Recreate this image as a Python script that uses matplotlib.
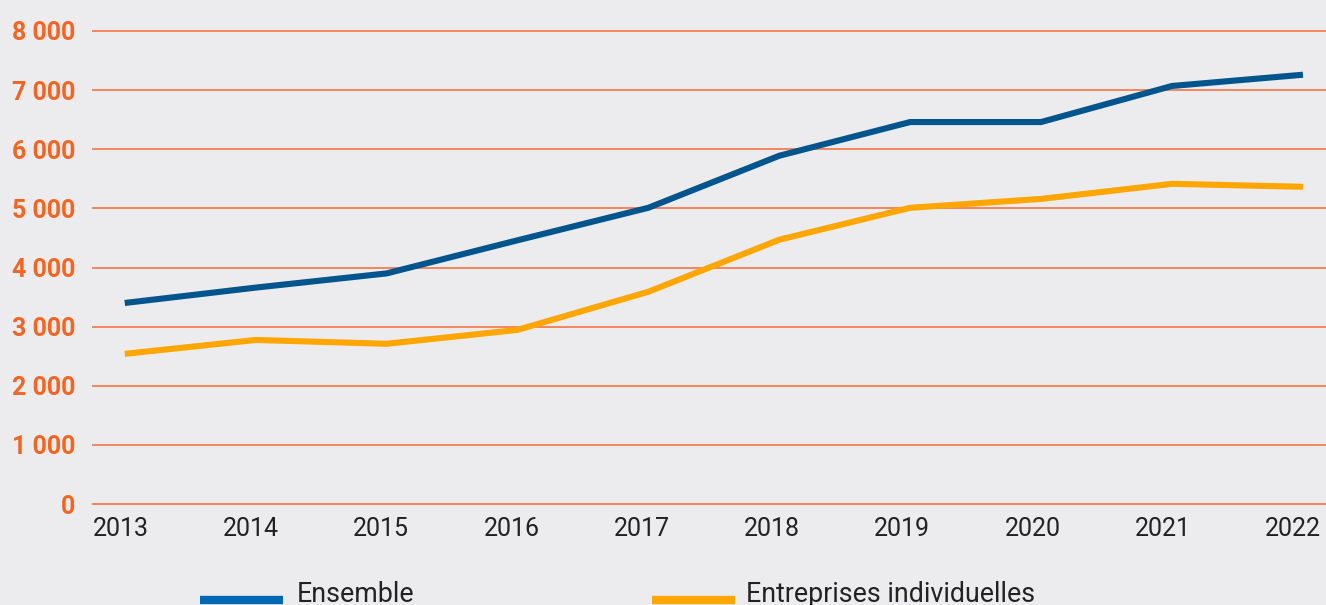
import matplotlib
matplotlib.use("Agg")
import matplotlib.pyplot as plt
from matplotlib.lines import Line2D
from matplotlib.ticker import FuncFormatter
import matplotlib.transforms as mtransforms

years = [2013, 2014, 2015, 2016, 2017, 2018, 2019, 2020, 2021, 2022]
ensemble = [3400, 3660, 3900, 4460, 5010, 5890, 6460, 6460, 7070, 7260]
entreprises = [2540, 2775, 2710, 2945, 3590, 4470, 5010, 5160, 5415, 5365]
yticks = [0, 1000, 2000, 3000, 4000, 5000, 6000, 7000, 8000]
labels = ["Ensemble", "Entreprises individuelles"]

W, H = 1326, 605
BG = "#ECECEE"
BLUE = "#00558C"
ORANGE = "#FFA600"
GRID = "#F36A34"
TICK = "#F26522"

plt.rcParams['font.family'] = ['Roboto', 'DejaVu Sans']

fig = plt.figure(figsize=(W / 100, H / 100), dpi=100, facecolor=BG)
ax = fig.add_axes([92 / W, (H - 507) / H, (W - 92) / W, (507 - 1.4) / H])
ax.set_facecolor(BG)

ax.plot(years, ensemble, color=BLUE, lw=4.4, solid_capstyle='butt', zorder=3)
ax.plot(years, entreprises, color=ORANGE, lw=4.4, solid_capstyle='butt', zorder=3)

ax.set_xlim(2012.75, 2022.176)
ax.set_ylim(-50, 8500)
ax.set_yticks(yticks)
ax.set_xticks(years)
ax.yaxis.set_major_formatter(FuncFormatter(lambda v, p: f"{int(v):,}".replace(",", " ")))
for y in yticks:
    ax.axhline(y, color=GRID, lw=1.1, zorder=1)

for s in ax.spines.values():
    s.set_visible(False)
ax.tick_params(axis='y', length=0, pad=12, labelsize=18, labelcolor=TICK)
ax.tick_params(axis='x', length=0, pad=7, labelsize=18, labelcolor="#222222")
for t in ax.get_yticklabels():
    t.set_fontweight('bold')
n = len(years)
for i, t in enumerate(ax.get_xticklabels()):
    dx = (-4 - 6 * i / (n - 1)) / 100
    t.set_transform(t.get_transform() + mtransforms.ScaledTranslation(dx, 0, fig.dpi_scale_trans))

# legend
ly = (H - 600) / H
fig.add_artist(Line2D([200 / W, 283 / W], [ly, ly], transform=fig.transFigure,
                      color="#0067B1", lw=6, solid_capstyle='butt'))
fig.add_artist(Line2D([652 / W, 735 / W], [ly, ly], transform=fig.transFigure,
                      color=ORANGE, lw=6, solid_capstyle='butt'))
fig.text(297 / W, (H - 602) / H, labels[0], fontsize=19.3, color="#222222",
         ha='left', va='baseline')
fig.text(746 / W, (H - 602) / H, labels[1], fontsize=19.3, color="#222222",
         ha='left', va='baseline')

fig.savefig("out.png", dpi=100, facecolor=BG)
